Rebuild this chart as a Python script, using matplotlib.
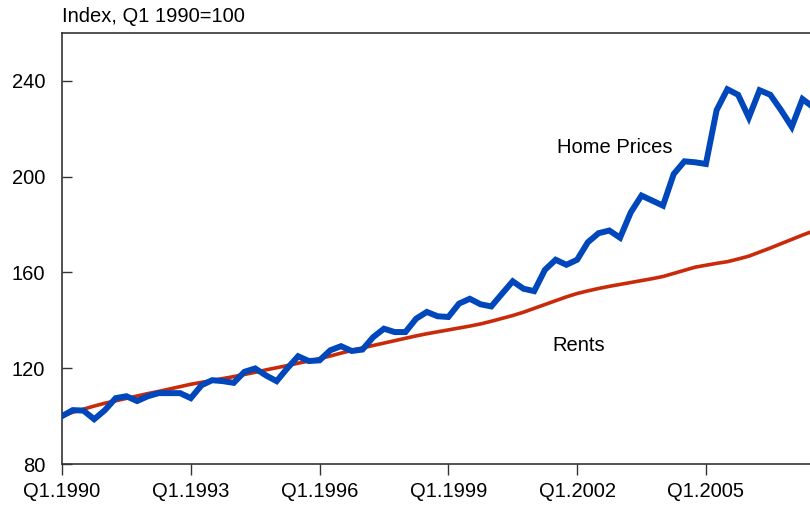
import matplotlib
matplotlib.use("Agg")
import matplotlib.pyplot as plt
import numpy as np

plt.rcParams['font.family'] = ['Liberation Sans', 'DejaVu Sans']

home_prices = [100.0, 102.5, 102.3, 98.7, 102.5, 107.5, 108.3, 106.3, 108.3, 109.6,
               109.6, 109.6, 107.5, 112.9, 115.0, 114.6, 113.9, 118.5, 119.9, 117.0,
               114.6, 120.0, 125.0, 123.0, 123.3, 127.5, 129.2, 127.2, 127.8, 133.0,
               136.5, 135.1, 135.1, 140.7, 143.5, 141.7, 141.4, 147.0, 149.0, 146.7,
               145.8, 151.1, 156.3, 153.2, 152.2, 161.1, 165.3, 163.2, 165.3, 172.6,
               176.4, 177.5, 174.5, 185.1, 192.1, 190.0, 187.9, 201.1, 206.4, 206.0,
               205.3, 227.8, 236.5, 234.2, 224.7, 236.1, 234.2, 227.8, 220.8, 232.4,
               229.0]
rents = [100.0, 101.6, 102.9, 104.2, 105.4, 106.4, 107.4, 108.4, 109.4, 110.3,
         111.3, 112.3, 113.3, 114.1, 114.9, 115.7, 116.5, 117.4, 118.3, 119.3,
         120.2, 121.1, 122.1, 123.0, 124.0, 125.1, 126.3, 127.4, 128.5, 129.5,
         130.5, 131.5, 132.5, 133.5, 134.4, 135.2, 136.0, 136.8, 137.6, 138.5,
         139.6, 140.8, 142.0, 143.4, 145.0, 146.6, 148.2, 149.8, 151.2, 152.3,
         153.3, 154.2, 155.0, 155.8, 156.6, 157.4, 158.3, 159.6, 160.9, 162.2,
         163.0, 163.8, 164.5, 165.6, 166.8, 168.5, 170.2, 172.0, 173.8, 175.6,
         177.3]
tick_labels = ["Q1.1990", "Q1.1993", "Q1.1996", "Q1.1999", "Q1.2002", "Q1.2005"]
y_ticks = [80, 120, 160, 200, 240]

x = np.arange(len(home_prices))

fig = plt.figure(figsize=(8.1, 5.08), dpi=100)
ax = fig.add_axes([62/810, 44/508, 1 - 62/810, (464-33)/508])

ax.plot(x, rents, color='#C82A0A', lw=2.6, solid_joinstyle='round', zorder=2)
ax.plot(x, home_prices, color='#0047BB', lw=4.3, solid_joinstyle='miter', zorder=3)

ax.set_xlim(0, 69.7)
ax.set_ylim(80, 260)
ax.set_xticks(np.arange(len(tick_labels)) * 12)
ax.set_xticklabels(tick_labels)
ax.set_yticks(y_ticks)

ax.tick_params(axis='x', direction='out', length=8, width=1, pad=5, labelsize=14.5, color='#333333')
ax.tick_params(axis='y', direction='in', length=7, width=1, pad=12, labelsize=14.5, color='#333333')
ax.spines['right'].set_visible(False)
for s in ['left', 'top', 'bottom']:
    ax.spines[s].set_color('#333333')
    ax.spines[s].set_linewidth(1.2)

ax.text(46.1, 212.1, "Home Prices", fontsize=14.5, ha='left', va='center')
ax.text(45.7, 129.6, "Rents", fontsize=14.5, ha='left', va='center')

fig.text(62/810, 1 - 16/508, "Index, Q1 1990=100", fontsize=14.5, ha='left', va='center')

fig.savefig("out.png", dpi=100)
